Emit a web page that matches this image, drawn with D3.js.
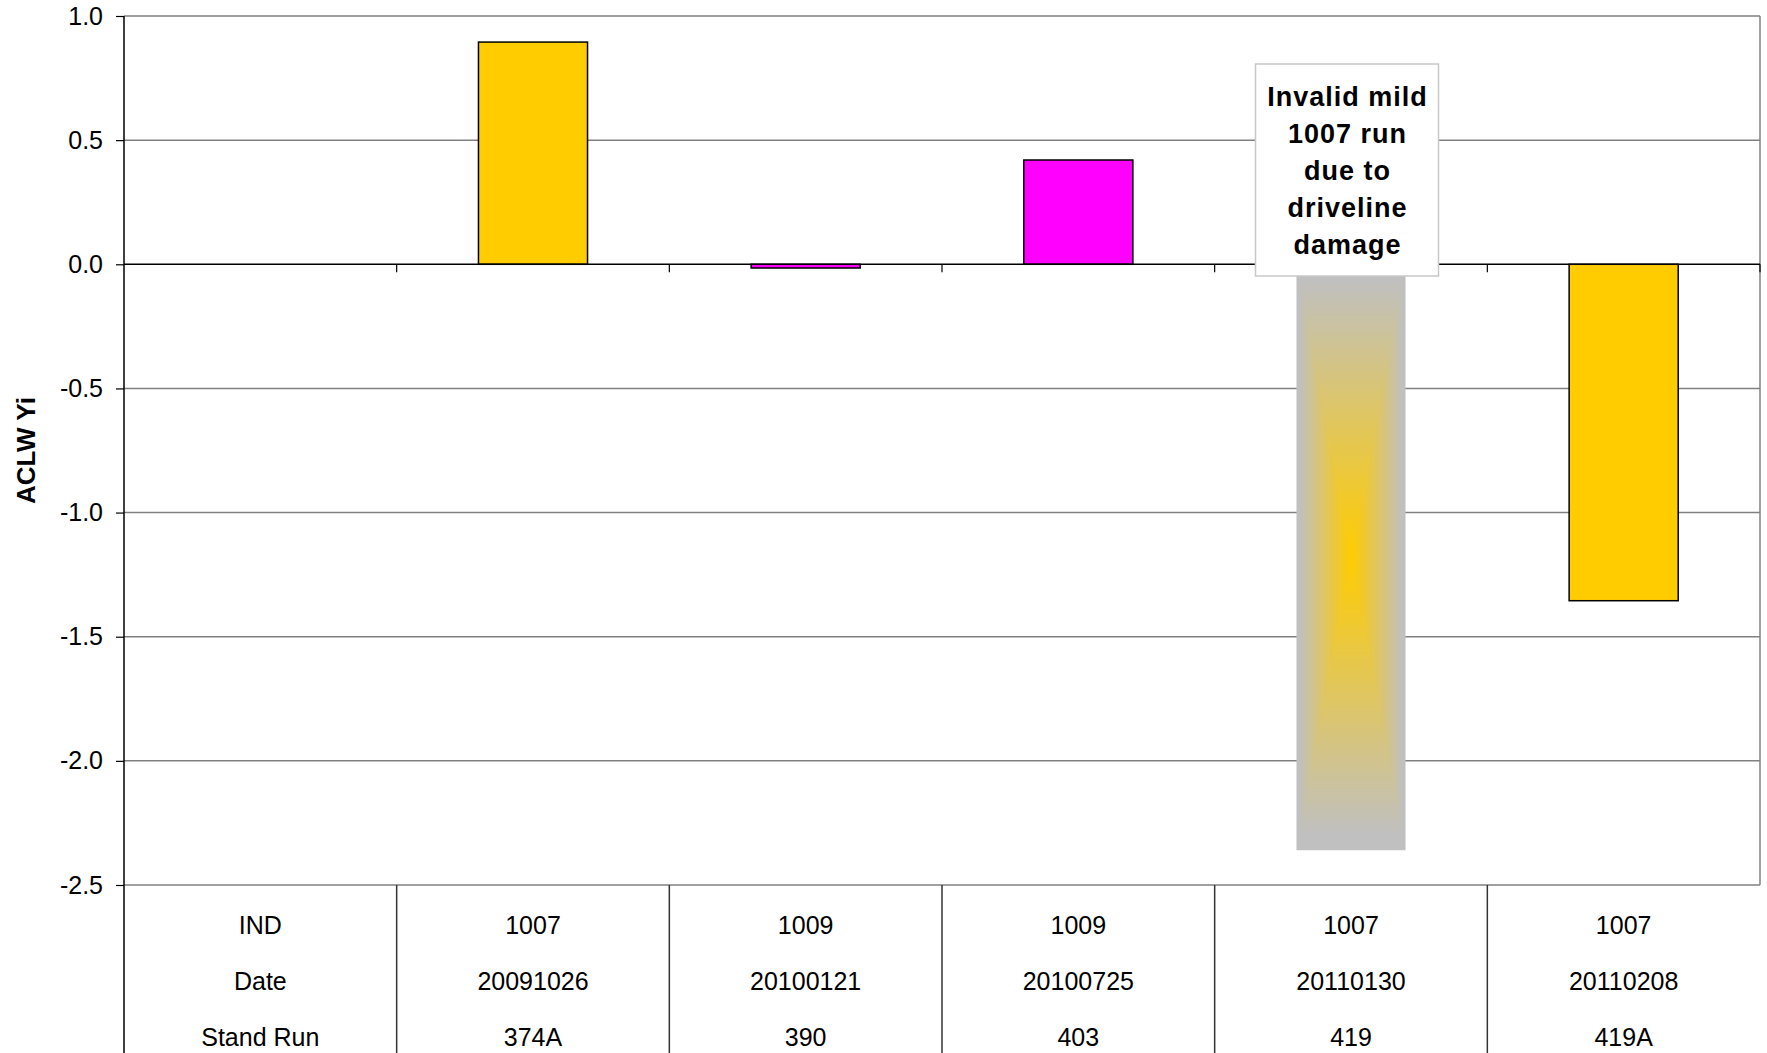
<!DOCTYPE html>
<html>
<head>
<meta charset="utf-8">
<script src="https://cdn.jsdelivr.net/npm/d3@7"></script>
<style>
  html, body { margin: 0; padding: 0; background: #fff; }
  svg { display: block; }
  text { font-family: "Liberation Sans", Arial, sans-serif; }
</style>
</head>
<body>
<svg id="chart" width="1767" height="1053"></svg>
<script>
// Run data (one entry per test run)
const indValues   = ["1007", "1009", "1009", "1007", "1007"];
const runDates    = ["20091026", "20100121", "20100725", "20110130", "20110208"];
const standRuns   = ["374A", "390", "403", "419", "419A"];
const yiValues    = [0.895, -0.015, 0.42, -2.36, -1.355];
const barColors   = ["#ffcc00", "#ff00ff", "#ff00ff", "gradient", "#ffcc00"];
const invalidRun  = "419";
const noteLines   = ["Invalid mild", "1007 run", "due to", "driveline", "damage"];
const rowHeaders  = ["IND", "Date", "Stand Run"];
const yTicks      = [1.0, 0.5, 0.0, -0.5, -1.0, -1.5, -2.0, -2.5];
const yTitle      = "ACLW Yi";

const svg = d3.select("#chart");
const plotLeft = 124, plotRight = 1760, plotTop = 16, plotBottom = 885;

// First band holds the row headers of the data table
const x = d3.scaleBand().domain(["header", ...standRuns]).range([plotLeft, plotRight]).paddingInner(0).paddingOuter(0);
const y = d3.scaleLinear().domain([-2.5, 1.0]).range([plotBottom, plotTop]);

// Horizontal gridlines
svg.append("g").selectAll("line").data(yTicks.filter(d => d !== 0)).join("line")
  .attr("x1", plotLeft).attr("x2", plotRight)
  .attr("y1", d => y(d)).attr("y2", d => y(d))
  .attr("stroke", "#808080").attr("stroke-width", 1.5);

// Right border of the plot
svg.append("line").attr("x1", plotRight).attr("x2", plotRight).attr("y1", plotTop).attr("y2", plotBottom)
  .attr("stroke", "#808080").attr("stroke-width", 1.5);

// Bars
const bw = x.bandwidth() * 0.4;
const data = standRuns.map((r, i) => ({ run: r, v: yiValues[i], color: barColors[i] }));

const gray = "#c0c0c0", gold = "#ffcc00";
const barG = svg.append("g");
data.forEach(d => {
  const cx = x(d.run) + x.bandwidth() / 2;
  const y0 = Math.min(y(0), y(d.v)), h = Math.abs(y(d.v) - y(0));
  if (d.color === "gradient") {
    // rectangular "from centre" fill: nested rectangles shading gray -> gold
    const N = 80, cy = y0 + h / 2;
    const mix = d3.interpolateRgb(gold, gray);
    for (let i = N; i >= 1; i--) {
      const t = i / N;
      barG.append("rect")
        .attr("x", cx - t * bw / 2).attr("y", cy - t * h / 2)
        .attr("width", t * bw).attr("height", t * h)
        .attr("fill", mix(Math.min(1, t / 0.95)));
    }
  } else {
    barG.append("rect")
      .attr("x", cx - bw / 2).attr("y", y0)
      .attr("width", bw).attr("height", h)
      .attr("fill", d.color).attr("stroke", "#000").attr("stroke-width", 1.5);
  }
});

// Y axis
const yAxis = d3.axisLeft(y).tickValues(yTicks).tickFormat(d => d.toFixed(1)).tickSize(8).tickPadding(13);
const ya = svg.append("g").attr("transform", `translate(${plotLeft},0)`).call(yAxis);
ya.select(".domain").remove();
ya.selectAll(".tick line").attr("stroke", "#000").attr("stroke-width", 1.2);
ya.selectAll(".tick text").attr("font-size", 25).attr("fill", "#000")
  .style("font-family", '"Liberation Sans", Arial, sans-serif');
svg.append("line").attr("x1", plotLeft).attr("x2", plotLeft).attr("y1", plotTop).attr("y2", 1053)
  .attr("stroke", "#000").attr("stroke-width", 1.5);

// Zero line with category ticks
svg.append("line").attr("x1", plotLeft).attr("x2", plotRight).attr("y1", y(0)).attr("y2", y(0))
  .attr("stroke", "#000").attr("stroke-width", 1.5);
const bounds = x.domain().slice(1).map(k => x(k)).concat([plotRight]);
svg.append("g").selectAll("line").data(bounds).join("line")
  .attr("x1", d => d).attr("x2", d => d)
  .attr("y1", y(0)).attr("y2", y(0) + 8)
  .attr("stroke", "#000").attr("stroke-width", 1.2);

// Data table below the plot
svg.append("g").selectAll("line").data(x.domain().slice(1).map(k => x(k))).join("line")
  .attr("x1", d => d).attr("x2", d => d)
  .attr("y1", plotBottom).attr("y2", 1053)
  .attr("stroke", "#333").attr("stroke-width", 1.5);

const rowY = [925, 981, 1037];
const tableRows = [indValues, runDates, standRuns];
const tbl = svg.append("g").attr("font-size", 25).attr("fill", "#000").attr("text-anchor", "middle");
rowHeaders.forEach((hdr, r) => {
  tbl.append("text").attr("x", x("header") + x.bandwidth() / 2).attr("y", rowY[r])
    .attr("dominant-baseline", "central").text(hdr);
  tableRows[r].forEach((val, i) => {
    tbl.append("text").attr("x", x(standRuns[i]) + x.bandwidth() / 2).attr("y", rowY[r])
      .attr("dominant-baseline", "central").text(val);
  });
});

// Y axis title
svg.append("text")
  .attr("transform", `translate(26,${(plotTop + plotBottom) / 2}) rotate(-90)`)
  .attr("text-anchor", "middle").attr("dominant-baseline", "central")
  .attr("font-size", 26).attr("font-weight", "bold").text(yTitle);

// Note box over the invalid run
const nx = x(invalidRun) + x.bandwidth() / 2 - 4;
const boxW = 183, boxTop = 64, boxH = 212;
svg.append("rect").attr("x", nx - boxW / 2).attr("y", boxTop).attr("width", boxW).attr("height", boxH)
  .attr("fill", "#fff").attr("stroke", "#c8c8c8").attr("stroke-width", 1.5);
svg.append("g").attr("font-size", 27).attr("font-weight", "bold").attr("text-anchor", "middle")
  .attr("letter-spacing", 1)
  .selectAll("text").data(noteLines).join("text")
  .attr("x", nx + 0.5).attr("y", (d, i) => 97 + i * 37)
  .attr("dominant-baseline", "central").text(d => d);
</script>
</body>
</html>
